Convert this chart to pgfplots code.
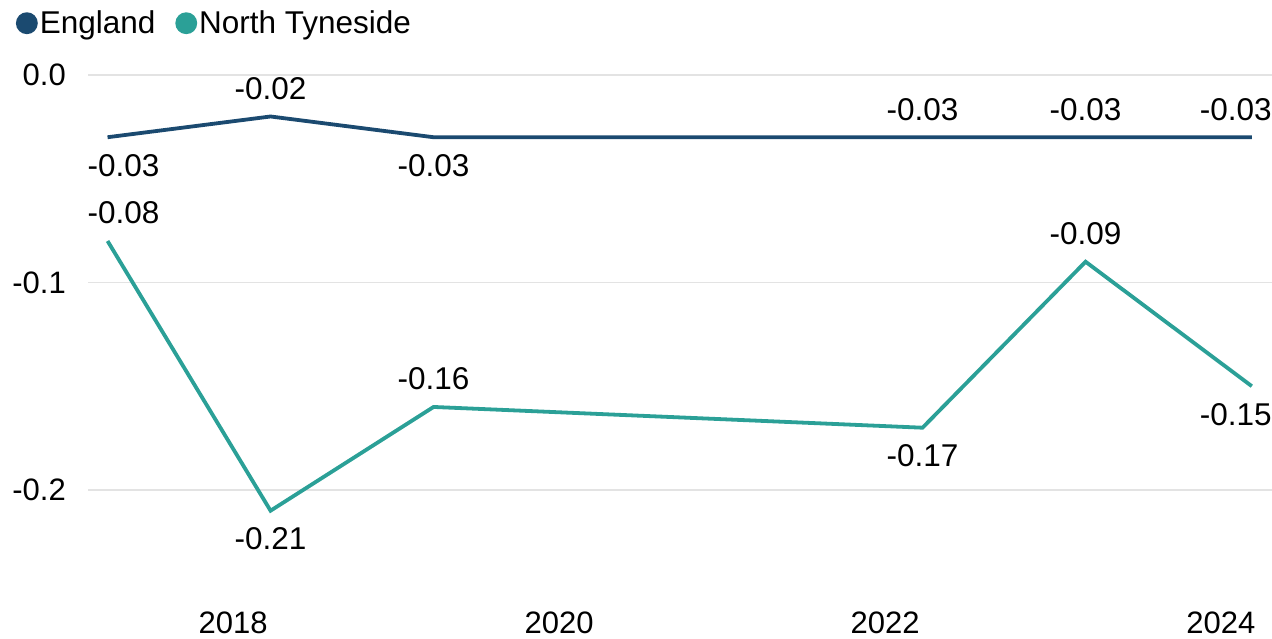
\documentclass[border=0pt]{standalone}
\usepackage{pgfplots}
\pgfplotsset{compat=1.18}
\usepackage{fontspec}
\setmainfont{Liberation Sans}

\definecolor{england}{HTML}{1B4A70}
\definecolor{tyneside}{HTML}{2BA097}
\definecolor{gridgray}{HTML}{E3E3E3}

% year, value, label, side (1 above / -1 below), xshift
\pgfplotstableread{
x       y      lab    side  xs
2017.23 -0.03  -0.03  -1    16
2018.23 -0.02  -0.02   1    0
2019.23 -0.03  -0.03  -1    0
2022.23 -0.03  -0.03   1    0
2023.23 -0.03  -0.03   1    0
2024.25 -0.03  -0.03   1    -16
}\england

\pgfplotstableread{
x       y      lab    side  xs
2017.23 -0.08  -0.08   1    16
2018.23 -0.21  -0.21  -1    0
2019.23 -0.16  -0.16   1    0
2022.23 -0.17  -0.17  -1    0
2023.23 -0.09  -0.09   1    0
2024.25 -0.15  -0.15  -1    -16
}\tyneside

\begin{document}
\begin{tikzpicture}
\path[use as bounding box] (-88pt,-59pt) rectangle (1184pt,580pt);
\begin{axis}[
    scale only axis,
    width=1184pt, height=505pt,
    xmin=2017.11, xmax=2024.374,
    ymin=-0.2434, ymax=0,
    axis line style={draw=none},
    clip=false,
    ytick={-0.2,-0.1,0},
    yticklabels={-0.2,-0.1,0.0},
    xtick={2018,2020,2022,2024.06},
    xticklabels={2018,2020,2022,2024},
    major tick length=0pt,
    ymajorgrids,
    grid style={gridgray, line width=1.6pt},
    font=\fontsize{31}{36}\selectfont,
    ticklabel style={font=\fontsize{31}{36}\selectfont, inner sep=0pt},
    yticklabel style={anchor=east, xshift=-22pt},
    xticklabel style={anchor=north, yshift=-32pt},
    legend columns=2,
    legend style={draw=none, fill=none, at={(-0.061,1.131)}, anchor=north west,
        font=\fontsize{31.5}{36}\selectfont, inner sep=0pt,
        /tikz/every even column/.append style={column sep=18pt}},
    legend image code/.code={\fill (0.3em,0) circle (9pt);},
    nodes near coords,
    point meta=explicit symbolic,
    visualization depends on={\thisrow{side}\as\side},
    visualization depends on={\thisrow{xs}\as\xs},
    every node near coord/.append style={anchor=center, inner sep=0pt,
        font=\fontsize{31.5}{36}\selectfont, text=black,
        yshift={\side*28pt}, xshift={\xs*1pt}},
]
\addplot[england, line width=3.8pt, mark=none] table[x=x, y=y, meta=lab] {\england};
\addlegendentry{England}
\addplot[tyneside, line width=3.8pt, mark=none] table[x=x, y=y, meta=lab] {\tyneside};
\addlegendentry{North Tyneside}
\end{axis}
\end{tikzpicture}
\end{document}
